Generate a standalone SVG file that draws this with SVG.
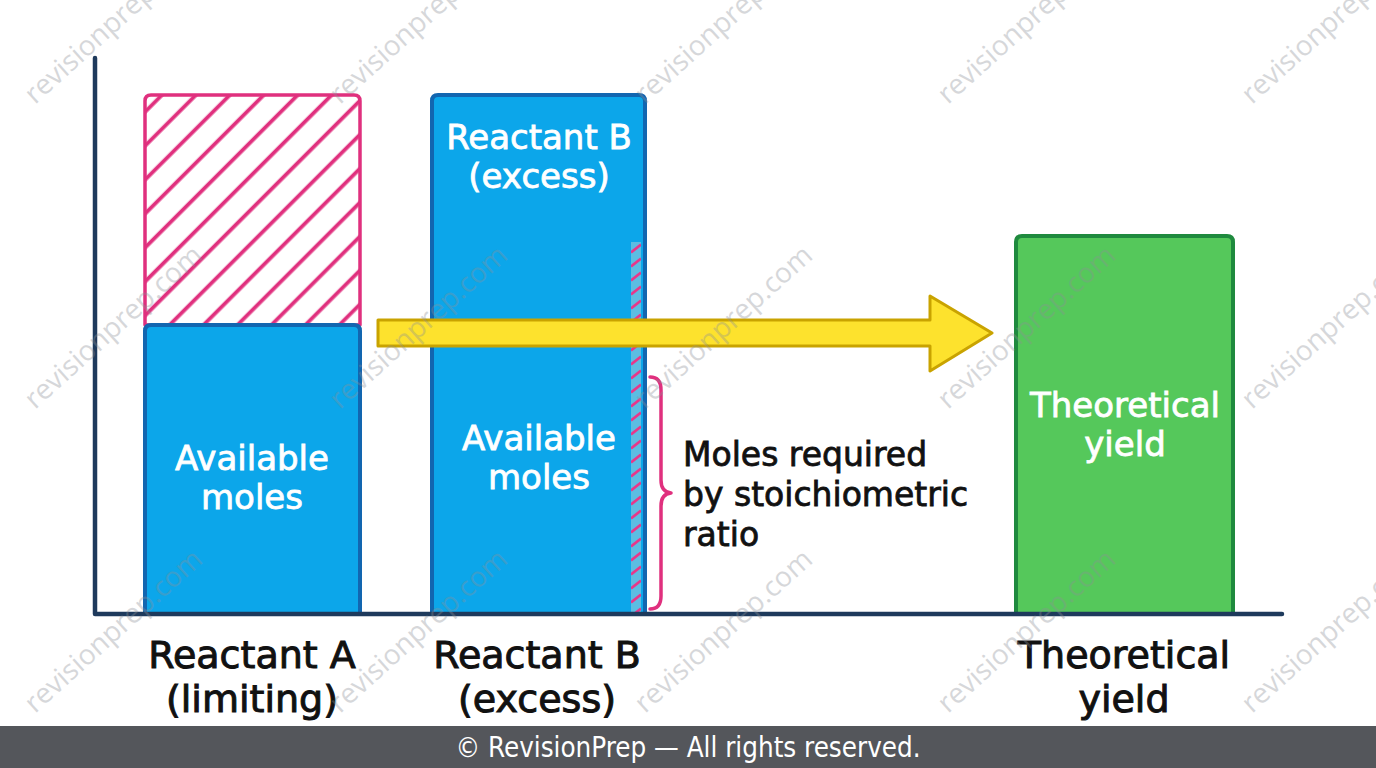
<svg xmlns="http://www.w3.org/2000/svg" width="1376" height="768" viewBox="0 0 1376 768">
  <defs>
    <pattern id="hatch" patternUnits="userSpaceOnUse" width="24" height="24" patternTransform="rotate(45)">
      <rect width="24" height="24" fill="#ffffff"/>
      <line x1="13.7" y1="-2" x2="13.7" y2="26" stroke="#e0307e" stroke-width="3.8"/>
    </pattern>
    <pattern id="strip" patternUnits="userSpaceOnUse" x="631" y="242" width="10" height="14">
      <rect width="10" height="14" fill="#5cbde2"/>
      <line x1="0" y1="10.5" x2="10" y2="2.5" stroke="#e8368a" stroke-width="2.6"/>
    </pattern>
    <style>
      .lbl { font-family: "DejaVu Sans", "Liberation Sans", sans-serif; text-anchor: middle; }
      .blk { fill: #111111; font-size: 38px; stroke: #111111; stroke-width: 1px; }
      .wht { fill: #ffffff; font-size: 34px; stroke: #ffffff; stroke-width: 0.8px; }
      .note { font-family: "DejaVu Sans", "Liberation Sans", sans-serif; fill: #111111; font-size: 33px; stroke: #111111; stroke-width: 0.8px; }
      .wm { font-family: "Open Sans", "Liberation Sans", sans-serif; font-size: 28px; fill: #8c9096; opacity: 0.35; }
    </style>
  </defs>
  <rect width="1376" height="768" fill="#ffffff"/>

  <g id="reactant-a">
    <path d="M145,325 V101 Q145,95 151,95 H354 Q360,95 360,101 V325 Z" fill="url(#hatch)" stroke="#e0307e" stroke-width="3.5" stroke-linejoin="round"/>
    <path d="M145,614 V331 Q145,325 151,325 H354 Q360,325 360,331 V614" fill="#0ca6ea" stroke="#1266b0" stroke-width="4"/>
    <text class="lbl wht" x="252" y="470">Available</text>
    <text class="lbl wht" x="252" y="509">moles</text>
  </g>

  <g id="reactant-b">
    <path d="M432,614 V101 Q432,95 438,95 H639 Q645,95 645,101 V614" fill="#0ca6ea" stroke="#1266b0" stroke-width="4"/>
    <rect x="631" y="242" width="10" height="370" fill="url(#strip)"/>
    <text class="lbl wht" x="539" y="149">Reactant B</text>
    <text class="lbl wht" x="539" y="188">(excess)</text>
    <text class="lbl wht" x="539" y="450">Available</text>
    <text class="lbl wht" x="539" y="489">moles</text>
  </g>

  <g id="theoretical-yield">
    <path d="M1016,614 V242 Q1016,236 1022,236 H1227 Q1233,236 1233,242 V614" fill="#55c85b" stroke="#1f8a3e" stroke-width="4"/>
    <text class="lbl wht" x="1125" y="417">Theoretical</text>
    <text class="lbl wht" x="1125" y="456">yield</text>
  </g>

  <g id="axes">
    <path d="M95,58 V614 H1282" fill="none" stroke="#1e3a5c" stroke-width="4.5" stroke-linecap="round" stroke-linejoin="round"/>
  </g>

  <g id="connectors">
    <path d="M378,320 H930 V296 L992,333 L930,371 V346 H378 Z" fill="#fde22d" stroke="#c9a300" stroke-width="3" stroke-linejoin="round"/>
    <path d="M650,377 Q661,377 661,390 V480 Q661,492 671,493 Q661,494 661,506 V596 Q661,609 650,609" fill="none" stroke="#e0307e" stroke-width="3.5" stroke-linecap="round" stroke-linejoin="round"/>
  </g>

  <g id="brace-label">
    <text class="note" x="683" y="466">Moles required</text>
    <text class="note" x="683" y="506">by stoichiometric</text>
    <text class="note" x="683" y="546">ratio</text>
  </g>

  <g id="axis-labels">
    <text class="lbl blk" x="252" y="668">Reactant A</text>
    <text class="lbl blk" x="252" y="712">(limiting)</text>
    <text class="lbl blk" x="537" y="668">Reactant B</text>
    <text class="lbl blk" x="537" y="712">(excess)</text>
    <text class="lbl blk" x="1124" y="668">Theoretical</text>
    <text class="lbl blk" x="1124" y="712">yield</text>
  </g>

  <g id="watermarks">
    <text class="wm" transform="translate(35,105) rotate(-42)">revisionprep.com</text>
    <text class="wm" transform="translate(340,105) rotate(-42)">revisionprep.com</text>
    <text class="wm" transform="translate(645,105) rotate(-42)">revisionprep.com</text>
    <text class="wm" transform="translate(948,105) rotate(-42)">revisionprep.com</text>
    <text class="wm" transform="translate(1252,105) rotate(-42)">revisionprep.com</text>
    <text class="wm" transform="translate(35,410) rotate(-42)">revisionprep.com</text>
    <text class="wm" transform="translate(340,410) rotate(-42)">revisionprep.com</text>
    <text class="wm" transform="translate(645,410) rotate(-42)">revisionprep.com</text>
    <text class="wm" transform="translate(948,410) rotate(-42)">revisionprep.com</text>
    <text class="wm" transform="translate(1252,410) rotate(-42)">revisionprep.com</text>
    <text class="wm" transform="translate(35,714) rotate(-42)">revisionprep.com</text>
    <text class="wm" transform="translate(340,714) rotate(-42)">revisionprep.com</text>
    <text class="wm" transform="translate(645,714) rotate(-42)">revisionprep.com</text>
    <text class="wm" transform="translate(948,714) rotate(-42)">revisionprep.com</text>
    <text class="wm" transform="translate(1252,714) rotate(-42)">revisionprep.com</text>
  </g>

  <g id="footer">
    <rect x="0" y="726" width="1376" height="42" fill="#54565b"/>
    <text x="688" y="757" text-anchor="middle" font-family="DejaVu Sans Condensed, DejaVu Sans, sans-serif" font-size="27.5" fill="#ffffff">© RevisionPrep — All rights reserved.</text>
  </g>
</svg>
